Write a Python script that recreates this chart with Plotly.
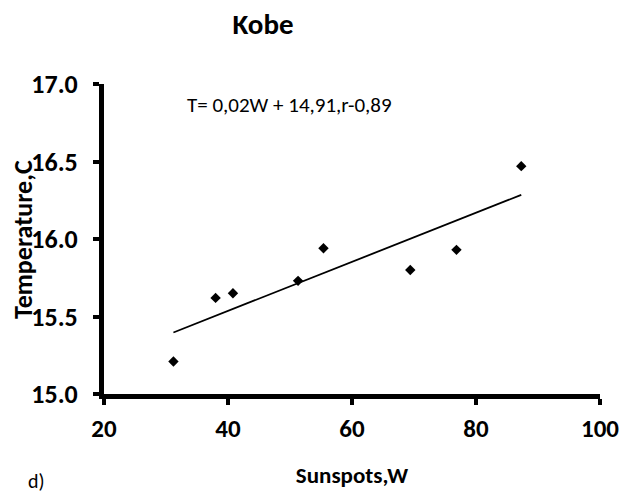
import numpy as np
import plotly.graph_objects as go

# Data
sunspots = [31.2, 38.0, 40.8, 51.3, 55.4, 69.4, 76.85, 87.3]
temperature = [15.21, 15.62, 15.65, 15.73, 15.94, 15.80, 15.93, 16.47]
x_ticks = [20, 40, 60, 80, 100]
y_ticks = [15.0, 15.5, 16.0, 16.5, 17.0]
title_text = "Kobe"
equation_text = "T= 0,02W + 14,91,r-0,89"
x_title = "Sunspots,W"
y_title = "Temperature,C"
panel_label = "d)"

# Linear trend from the data
slope, intercept = np.polyfit(sunspots, temperature, 1)
trend_x = [min(sunspots), max(sunspots)]
trend_y = [slope * v + intercept for v in trend_x]

FONT = "Calibri, Carlito, Lato, sans-serif"

fig = go.Figure()
fig.add_trace(go.Scatter(
    x=sunspots, y=temperature, mode="markers",
    marker=dict(symbol="diamond", size=8, color="black"),
    showlegend=False,
))
fig.add_trace(go.Scatter(
    x=trend_x, y=trend_y, mode="lines",
    line=dict(color="black", width=1.8),
    showlegend=False,
))

W, H = 631, 496
L, R, T, B = 104, 31, 84, 102
pw = W - L - R
ph = H - T - B

fig.update_layout(
    width=W, height=H,
    margin=dict(l=L, r=R, t=T, b=B, autoexpand=False),
    paper_bgcolor="white", plot_bgcolor="white",
    font=dict(family=FONT, color="black"),
    title=dict(text="<b>%s</b>" % title_text, xref="container", yref="container",
               x=263 / W, y=1 - 24 / H, xanchor="center", yanchor="middle",
               font=dict(size=29, family=FONT, color="black")),
    xaxis=dict(
        range=[20, 100], tickvals=x_ticks,
        ticktext=["<b>%d</b>" % v for v in x_ticks],
        tickfont=dict(size=25, family=FONT, color="black"),
        showline=True, linecolor="black", linewidth=5,
        ticks="outside", ticklen=6, tickwidth=4, tickcolor="black",
        showgrid=False, zeroline=False, automargin=False,
        ticklabelstandoff=2,
        title=dict(text="<b>%s</b>" % x_title, standoff=25,
                   font=dict(size=23, family=FONT, color="black")),
    ),
    yaxis=dict(
        range=[15, 17], tickvals=y_ticks,
        ticktext=["<b>%.1f</b>" % v for v in y_ticks],
        tickfont=dict(size=26, family=FONT, color="black"),
        showline=True, linecolor="black", linewidth=5,
        ticks="outside", ticklen=6, tickwidth=4, tickcolor="black",
        showgrid=False, zeroline=False, automargin=False,
        ticklabelstandoff=10,
    ),
    annotations=[
        dict(text=equation_text, xref="x", yref="y", x=33.05, y=16.865,
             xanchor="left", yanchor="middle", showarrow=False,
             font=dict(size=21, family=FONT, color="black")),
        dict(text="<b>%s</b>" % y_title, xref="paper", yref="paper",
             x=(23 - L) / pw, y=(H - B - 240) / ph, textangle=-90,
             xanchor="center", yanchor="middle", showarrow=False,
             font=dict(size=26, family=FONT, color="black")),
        dict(text=panel_label, xref="paper", yref="paper",
             x=(36 - L) / pw, y=(H - B - 481) / ph,
             xanchor="center", yanchor="middle", showarrow=False,
             font=dict(size=20, family=FONT, color="black")),
    ],
)

fig.write_html("out.html")
